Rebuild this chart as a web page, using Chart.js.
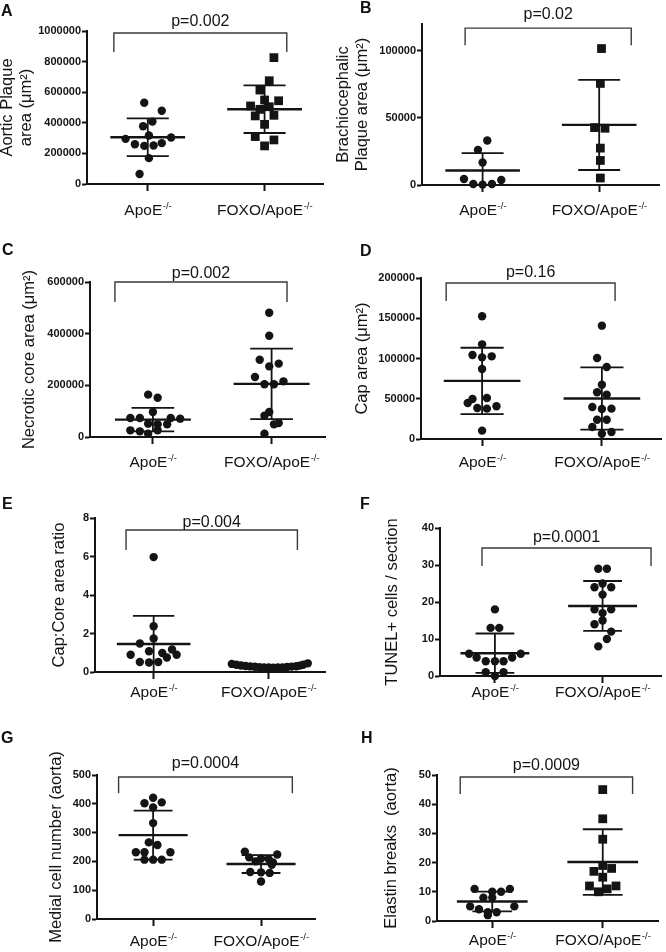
<!DOCTYPE html>
<html>
<head>
<meta charset="utf-8">
<script src="https://cdn.jsdelivr.net/npm/chart.js@4.4.1/dist/chart.umd.min.js"></script>
<style>
  body { margin: 0; background: #fff; }
  #fig { position: relative; width: 666px; height: 952px; overflow: hidden; }
  .cell { position: absolute; }
  .letter { position: absolute; font: bold 16px "Liberation Sans", Arial, sans-serif; line-height: 16px; color: #111; }
</style>
</head>
<body>
<div id="fig"></div>
<script>
// ------------------ labels ------------------
const groups = ["ApoE", "FOXO/ApoE"];
const groupSup = "-/-";
const letters = ["A", "B", "C", "D", "E", "F", "G", "H"];
const yTitles = [
  ["Aortic Plaque", "area (μm²)"],
  ["Brachiocephalic", "Plaque area (μm²)"],
  "Necrotic core area (μm²)",
  "Cap area (μm²)",
  "Cap:Core area ratio",
  "TUNEL+ cells / section",
  "Medial cell number (aorta)",
  "Elastin breaks  (aorta)"
];
const pValues = ["p=0.002", "p=0.02", "p=0.002", "p=0.16", "p=0.004", "p=0.0001", "p=0.0004", "p=0.0009"];

// ------------------ values ------------------
// A - aortic plaque area
const aorticApoE = [531000, 479000, 408000, 377000, 295000, 317000, 304000, 260000, 249000, 252000, 267000, 169000, 65000];
const aorticFoxo = [826000, 675000, 614000, 549000, 544000, 510000, 488000, 505000, 445000, 449000, 390000, 310000, 288000, 249000];
// B - brachiocephalic plaque area
const brachApoE = [33200, 26200, 16800, 4500, 3700, 700, 300, 700];
const brachFoxo = [101700, 75700, 42800, 42300, 27500, 18300, 5200];
// C - necrotic core area
const coreApoE = [164000, 152000, 97000, 73500, 73500, 73500, 71000, 51600, 49000, 49000, 25800, 21900, 25800, 12900];
const coreFoxo = [481000, 392000, 299000, 273500, 284000, 232000, 204000, 204000, 215500, 96800, 82600, 54200, 49000, 12900];
// D - cap area
const capApoE = [152400, 117600, 104300, 102700, 101400, 87000, 49700, 50900, 44700, 38500, 37700, 40600, 10400];
const capFoxo = [140800, 100600, 89400, 67500, 58000, 55100, 39800, 37300, 37700, 24000, 24000, 14900, 8700, 6600];
// E - cap:core ratio
const ratioApoE = [5.97, 2.38, 1.74, 1.48, 1.08, 0.99, 1.17, 0.9, 0.9, 0.75, 0.52, 0.49, 0.52];
const ratioFoxo = [0.42, 0.38, 0.34, 0.31, 0.29, 0.27, 0.25, 0.24, 0.23, 0.22, 0.23, 0.24, 0.26, 0.28, 0.3, 0.33, 0.38, 0.45];
// F - TUNEL+ cells
const tunelApoE = [18, 13, 13, 6, 6, 5, 5, 4, 4, 4, 1, 1, 0];
const tunelFoxo = [29, 29, 24, 25, 24, 22, 18, 18, 17, 15, 14, 12, 10, 8];
// G - medial cell number
const medialApoE = [421, 402, 405, 387, 333, 266, 257, 232, 232, 232, 206, 206, 206];
const medialFoxo = [234, 224, 214, 210, 208, 200, 196, 188, 163, 162, 160, 130];
// H - elastin breaks
const elastinApoE = [11, 11, 10, 10, 8, 8, 5, 5, 4, 3, 3, 2];
const elastinFoxo = [45, 35, 28, 19, 17, 18, 15, 12, 12, 10, 11];

// horizontal scatter of each dot around its column (category units)
const aorticApoEDx = [-0.03, 0.12, 0.04, -0.04, -0.19, 0.01, 0.2, -0.11, -0.03, 0.05, 0.12, 0.01, -0.07];
const aorticFoxoDx = [0.08, 0.04, -0.04, 0, 0.12, -0.12, -0.04, 0.04, -0.08, 0.08, 0, -0.08, 0.08, 0];
const brachApoEDx = [0.04, -0.04, 0, -0.16, 0.16, -0.08, 0, 0.08];
const brachFoxoDx = [0.02, 0.01, -0.04, 0.05, 0.01, 0.01, 0.01];
const coreApoEDx = [-0.04, 0.04, 0, -0.19, -0.11, 0.15, 0.23, -0.04, 0.04, 0.12, -0.19, -0.11, 0.04, -0.04];
const coreFoxoDx = [-0.02, -0.02, -0.1, -0.02, 0.06, -0.14, -0.06, 0.02, 0.1, -0.02, -0.06, 0.06, 0.02, -0.06];
const capApoEDx = [0, 0, -0.08, 0.08, 0, 0, -0.08, 0.04, -0.12, -0.04, 0.04, 0.12, 0];
const capFoxoDx = [0, -0.04, 0.04, 0, -0.04, 0.04, -0.08, 0, 0.08, -0.04, 0.04, -0.08, 0.08, 0];
const ratioApoEDx = [0, 0, 0, -0.12, -0.04, 0.075, 0.16, -0.2, 0.2, 0.115, -0.12, -0.04, 0.04];
const ratioFoxoDx = [-0.32, -0.28, -0.24, -0.2, -0.16, -0.12, -0.08, -0.04, 0, 0.04, 0.08, 0.12, 0.16, 0.2, 0.24, 0.27, 0.3, 0.34];
const tunelApoEDx = [0, -0.04, 0.04, -0.24, 0.24, -0.17, 0.16, -0.085, 0, 0.08, -0.085, 0.08, 0];
const tunelFoxoDx = [-0.04, 0.04, -0.075, 0, 0.08, 0, -0.075, 0.08, 0, 0, -0.075, 0.08, 0.04, -0.04];
const medialApoEDx = [0, -0.08, 0.08, 0, 0, -0.04, 0.04, -0.16, -0.08, 0.16, -0.08, 0, 0.08];
const medialFoxoDx = [-0.15, 0.15, -0.11, 0, 0.07, -0.05, 0.11, 0.1, -0.1, 0, 0.08, 0];
const elastinApoEDx = [-0.16, 0.16, 0, 0.08, -0.08, 0, -0.2, 0.2, -0.12, -0.04, 0.04, -0.04];
const elastinFoxoDx = [0, 0, 0, 0, -0.08, 0.08, 0, -0.12, 0.12, -0.04, 0.04];

// ------------------ panel layout ------------------
// cell: canvas box, axis: [left, top, right, bottom] in page px
const panels = [
  { apoe: aorticApoE, apoeDx: aorticApoEDx, foxo: aorticFoxo, foxoDx: aorticFoxoDx, foxoStyle: "rect",
    cell: [0, 0, 333, 230], axis: [87, 31, 323, 184], xr: [0.48, 2.5], yMax: 1000000, step: 200000,
    bracket: [0.71, 2.19, 987000, 863000], titlePad: -2, labelGap: 31, pGap: 7, letterAt: [1, 16] },
  { apoe: brachApoE, apoeDx: brachApoEDx, foxo: brachFoxo, foxoDx: brachFoxoDx, foxoStyle: "rect",
    cell: [333, 0, 333, 230], axis: [422, 24, 664, 185], xr: [0.48, 2.52], yMax: 120000, step: 50000,
    bracket: [0.85, 2.275, 116900, 104200], titlePad: 1, labelGap: 30, pGap: 9, letterAt: [360, 13] },
  { apoe: coreApoE, apoeDx: coreApoEDx, foxo: coreFoxo, foxoDx: coreFoxoDx, foxoStyle: "circle",
    cell: [0, 230, 333, 245], axis: [90, 282, 325, 437], xr: [0.47, 2.45], yMax: 600000, step: 200000,
    bracket: [0.68, 2.13, 600000, 522600], titlePad: 20, labelGap: 30, pGap: 4, letterAt: [2, 255] },
  { apoe: capApoE, apoeDx: capApoEDx, foxo: capFoxo, foxoDx: capFoxoDx, foxoStyle: "circle",
    cell: [333, 230, 333, 245], axis: [421, 278, 664, 439], xr: [0.49, 2.5], yMax: 200000, step: 50000,
    bracket: [0.70, 2.11, 193800, 171400], titlePad: 20, labelGap: 28, pGap: 6, letterAt: [360, 256] },
  { apoe: ratioApoE, apoeDx: ratioApoEDx, foxo: ratioFoxo, foxoDx: ratioFoxoDx, foxoStyle: "circle",
    cell: [0, 475, 333, 235], axis: [95, 518, 325, 672], xr: [0.49, 2.49], yMax: 8, step: 2,
    bracket: [0.76, 2.25, 7.38, 6.34], titlePad: 50, labelGap: 25, pGap: 3, letterAt: [2, 509] },
  { apoe: tunelApoE, apoeDx: tunelApoEDx, foxo: tunelFoxo, foxoDx: tunelFoxoDx, foxoStyle: "circle",
    cell: [333, 475, 333, 235], axis: [440, 528, 664, 676], xr: [0.49, 2.55], yMax: 40, step: 10,
    bracket: [0.88, 2.45, 34.6, 29.7], titlePad: 50, labelGap: 21, pGap: 6, letterAt: [360, 509] },
  { apoe: medialApoE, apoeDx: medialApoEDx, foxo: medialFoxo, foxoDx: medialFoxoDx, foxoStyle: "circle",
    cell: [0, 710, 333, 242], axis: [97, 775, 315, 919], xr: [0.48, 2.5], yMax: 500, step: 100,
    bracket: [0.68, 2.29, 493, 437], titlePad: 47, labelGap: 27, pGap: 9, letterAt: [1, 743] },
  { apoe: elastinApoE, apoeDx: elastinApoEDx, foxo: elastinFoxo, foxoDx: elastinFoxoDx, foxoStyle: "rect",
    cell: [333, 710, 333, 242], axis: [437, 775, 658, 921], xr: [0.5, 2.5], yMax: 50, step: 10,
    bracket: [0.71, 2.27, 49.3, 43.5], titlePad: 49, labelGap: 24, pGap: 7, letterAt: [361, 743] }
];

const FONT = '"Liberation Sans", Arial, Helvetica, sans-serif';
const INK = "#141414";
Chart.defaults.font.family = FONT;
Chart.defaults.color = INK;

function meanSd(v) {
  const m = v.reduce((a, b) => a + b, 0) / v.length;
  const sd = Math.sqrt(v.reduce((a, b) => a + (b - m) * (b - m), 0) / (v.length - 1));
  return [m, sd];
}

// p value above bracket + column labels with superscript
const figText = {
  id: "figText",
  afterDraw(chart, args, o) {
    const { ctx, scales: { x, y } } = chart;
    ctx.save();
    ctx.fillStyle = INK;
    ctx.textBaseline = "alphabetic";
    ctx.textAlign = "center";
    ctx.font = "16px " + FONT;
    ctx.fillText(o.p, x.getPixelForValue((o.bracket[0] + o.bracket[1]) / 2), y.getPixelForValue(o.bracket[2]) - o.pGap);

    const base = y.getPixelForValue(0) + o.labelGap;
    ctx.textAlign = "left";
    groups.forEach((name, i) => {
      ctx.font = "15.5px " + FONT;
      const w1 = ctx.measureText(name).width;
      ctx.font = "9.5px " + FONT;
      const w2 = ctx.measureText(groupSup).width;
      const left = x.getPixelForValue(i + 1) - (w1 + w2) / 2;
      ctx.font = "15.5px " + FONT;
      ctx.fillText(name, left, base);
      ctx.font = "9.5px " + FONT;
      ctx.fillText(groupSup, left + w1 + 0.5, base - 6);
    });
    ctx.restore();
  }
};

const fig = document.getElementById("fig");

panels.forEach((P, k) => {
  const [cx, cy, cw, ch] = P.cell;
  const [al, at, ar, ab] = P.axis;

  const cell = document.createElement("div");
  cell.className = "cell";
  cell.style.left = cx + "px";
  cell.style.top = cy + "px";
  const canvas = document.createElement("canvas");
  canvas.width = cw;
  canvas.height = ch;
  cell.appendChild(canvas);
  fig.appendChild(cell);

  const dots = (vals, dx, g) => vals.map((v, i) => ({ x: g + dx[i], y: v }));
  const meanLines = [];
  const sdLines = [];
  [P.apoe, P.foxo].forEach((vals, i) => {
    const g = i + 1;
    const [m, sd] = meanSd(vals);
    meanLines.push({ x: g - 0.32, y: m }, { x: g + 0.32, y: m }, { x: g, y: null });
    sdLines.push(
      { x: g - 0.18, y: m + sd }, { x: g + 0.18, y: m + sd }, { x: g, y: null },
      { x: g - 0.18, y: m - sd }, { x: g + 0.18, y: m - sd }, { x: g, y: null },
      { x: g, y: m - sd }, { x: g, y: m + sd }, { x: g, y: null }
    );
  });
  const [b1, b2, bTop, bEnd] = P.bracket;

  new Chart(canvas, {
    type: "scatter",
    data: {
      datasets: [
        { data: dots(P.apoe, P.apoeDx, 1), pointStyle: "circle", pointRadius: 4.2, backgroundColor: INK, borderWidth: 0, clip: false },
        { data: dots(P.foxo, P.foxoDx, 2), pointStyle: P.foxoStyle, pointRadius: P.foxoStyle === "rect" ? 6.2 : 4.2, backgroundColor: INK, borderWidth: 0, clip: false },
        { data: meanLines, showLine: true, borderColor: INK, borderWidth: 2.4, pointRadius: 0 },
        { data: sdLines, showLine: true, borderColor: INK, borderWidth: 1.8, pointRadius: 0 },
        { data: [{ x: b1, y: bEnd }, { x: b1, y: bTop }, { x: b2, y: bTop }, { x: b2, y: bEnd }],
          showLine: true, borderColor: "#3a3a3a", borderWidth: 1.4, pointRadius: 0, clip: false }
      ]
    },
    options: {
      responsive: false,
      animation: false,
      events: [],
      layout: { padding: { left: 0, top: at - cy, right: cx + cw - ar, bottom: 0 } },
      plugins: {
        legend: { display: false },
        tooltip: { enabled: false },
        figText: { p: pValues[k], bracket: P.bracket, pGap: P.pGap, labelGap: P.labelGap }
      },
      scales: {
        x: {
          type: "linear",
          min: P.xr[0],
          max: P.xr[1],
          afterBuildTicks: s => { s.ticks = [{ value: 1 }, { value: 2 }]; },
          afterFit: s => { s.height = cy + ch - ab; },
          ticks: { display: false },
          grid: { drawOnChartArea: false, tickLength: 7, tickWidth: 2, tickColor: INK },
          border: { color: INK, width: 2 }
        },
        y: {
          min: 0,
          max: P.yMax,
          afterBuildTicks: s => {
            const t = [];
            for (let v = 0; v <= P.yMax + 1e-9; v += P.step) t.push({ value: v });
            s.ticks = t;
          },
          afterFit: s => { s.width = al - cx; },
          ticks: {
            padding: 1,
            color: INK,
            font: { size: 11, weight: "bold" },
            callback: v => String(v)
          },
          grid: { drawOnChartArea: false, tickLength: 5, tickWidth: 2, tickColor: INK },
          border: { color: INK, width: 2 },
          title: {
            display: true,
            text: yTitles[k],
            color: INK,
            font: { size: 16.5, lineHeight: 1.15 },
            padding: { top: P.titlePad, bottom: 0 }
          }
        }
      }
    },
    plugins: [figText]
  });

  const letter = document.createElement("div");
  letter.className = "letter";
  letter.textContent = letters[k];
  letter.style.left = P.letterAt[0] + "px";
  letter.style.top = (P.letterAt[1] - 13.5) + "px";
  fig.appendChild(letter);
});
</script>
</body>
</html>
